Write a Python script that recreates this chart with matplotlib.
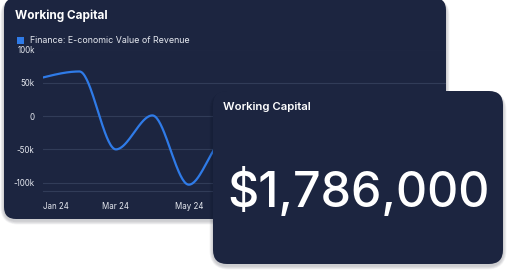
import numpy as np
import matplotlib.pyplot as plt
from matplotlib.patches import FancyBboxPatch

plt.rcParams["font.family"] = ["Inter", "DejaVu Sans"]

months = ["Jan 24", "Feb 24", "Mar 24", "Apr 24", "May 24", "Jun 24",
          "Jul 24", "Aug 24", "Sep 24", "Oct 24", "Nov 24", "Dec 24"]
revenue = [58000, 67000, -50000, 1000, -103000, -35000,
           -70000, 20000, -40000, 30000, -10000, 15000]
y_ticks = [-100000, -50000, 0, 50000, 100000]
y_labels = ["-100k", "-50k", "0", "50k", "100k"]
x_ticks = [0, 2, 4]  # later labels sit behind the front card
title = "Working Capital"
series_name = "Finance: E-conomic Value of Revenue"
big_value = "$1,786,000"

CARD = "#1c2540"
GRID = "#313c58"
LINE = "#2f7be8"


def monotone_x(y, n=40):
    # d3 curveMonotoneX on evenly spaced points
    y = np.asarray(y, float)
    s = np.diff(y)
    t = np.zeros(len(y))
    for i in range(1, len(y) - 1):
        p = (s[i - 1] + s[i]) / 2
        t[i] = (np.sign(s[i - 1]) + np.sign(s[i])) * min(abs(s[i - 1]), abs(s[i]), 0.5 * abs(p))
    t[0] = (3 * s[0] - t[1]) / 2
    t[-1] = (3 * s[-1] - t[-2]) / 2
    xs, ys = [], []
    u = np.linspace(0, 1, n, endpoint=False)
    for i in range(len(y) - 1):
        h00 = 2 * u**3 - 3 * u**2 + 1
        h10 = u**3 - 2 * u**2 + u
        h01 = -2 * u**3 + 3 * u**2
        h11 = u**3 - u**2
        xs.append(i + u)
        ys.append(h00 * y[i] + h10 * t[i] + h01 * y[i + 1] + h11 * t[i + 1])
    xs.append([len(y) - 1])
    ys.append([y[-1]])
    return np.concatenate(xs), np.concatenate(ys)


def card(ax, x0, y0, x1, y1, r, z):
    for k in range(6, 0, -1):
        ax.add_patch(FancyBboxPatch((x0 - k * 0.6, y0 + 2 - k * 0.3), x1 - x0 + k * 1.2, y1 - y0 + k * 0.9,
                                    boxstyle=f"round,pad=0,rounding_size={r + k}",
                                    fc="#0b1020", ec="none", alpha=0.035, zorder=z))
    ax.add_patch(FancyBboxPatch((x0, y0), x1 - x0, y1 - y0,
                                boxstyle=f"round,pad=0,rounding_size={r}",
                                fc=CARD, ec="none", zorder=z + 1))


W, H = 508, 273
fig = plt.figure(figsize=(W / 100, H / 100), dpi=100)
fig.patch.set_facecolor("white")

bg = fig.add_axes([0, 0, 1, 1], zorder=0)
bg.set_xlim(0, W)
bg.set_ylim(H, 0)
bg.axis("off")
card(bg, 4, -2, 446, 219, 12, 1)
bg.text(15, 16, title, color="white", fontsize=8.5, fontweight="bold", va="center", ha="left", zorder=5)
bg.add_patch(plt.Rectangle((17, 37), 6.5, 6.5, fc=LINE, ec="none", zorder=5))
bg.text(30, 40.5, series_name, color="#e6e9f0", fontsize=6.4, va="center", ha="left", zorder=5)

# chart area
left, right, top, bottom = 43, 446, 49.5, 191
ax = fig.add_axes([left / W, 1 - bottom / H, (right - left) / W, (bottom - top) / H], zorder=1)
ax.set_facecolor("none")
xs, ys = monotone_x(revenue)
ax.plot(xs, ys, color=LINE, lw=1.6, solid_capstyle="round")
ax.set_xlim(0, (right - left) / ((444 - left) / 11))
ax.set_ylim(-112500, 100000)
ax.set_yticks(y_ticks)
ax.set_yticklabels(y_labels)
ax.set_xticks(x_ticks)
ax.set_xticklabels([months[i] for i in x_ticks])
ax.get_xticklabels()[0].set_horizontalalignment("left")
ax.grid(axis="y", color=GRID, lw=0.8)
ax.set_axisbelow(True)
for sp in ["top", "right", "left"]:
    ax.spines[sp].set_visible(False)
ax.spines["bottom"].set_color(GRID)
ax.spines["bottom"].set_linewidth(0.8)
ax.tick_params(length=0, labelsize=5.7, labelcolor="#e6e9f0")
ax.tick_params(axis="y", pad=6)
ax.tick_params(axis="x", pad=8)

# front card
fr = fig.add_axes([0, 0, 1, 1], zorder=2)
fr.set_xlim(0, W)
fr.set_ylim(H, 0)
fr.axis("off")
card(fr, 213, 91, 503, 264, 14, 1)
fr.text(223, 107, title, color="white", fontsize=8.2, fontweight="semibold", va="center", ha="left", zorder=5)
fr.text(358, 192, big_value, color="white", fontsize=34.8, fontweight="medium", va="center", ha="center", zorder=5)

fig.savefig("out.png", dpi=100, facecolor="white")
